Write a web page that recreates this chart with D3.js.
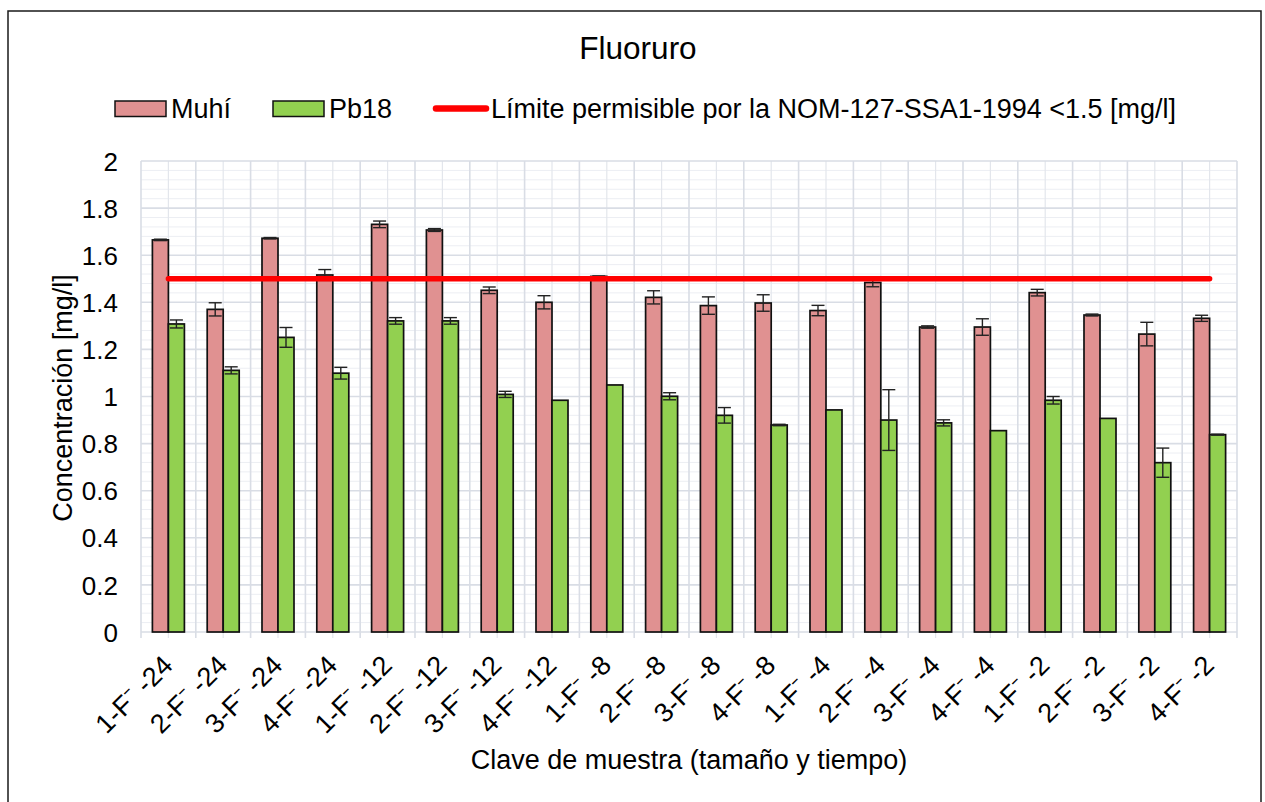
<!DOCTYPE html>
<html>
<head>
<meta charset="utf-8">
<script src="https://cdn.jsdelivr.net/npm/d3@7"></script>
<style>
  html, body { margin: 0; padding: 0; background: #fff; }
  svg { display: block; font-family: Arial, "Liberation Sans", sans-serif; }
</style>
</head>
<body>
<svg id="chart" width="1265" height="802"></svg>
<script>
const categories = ["1-F⁻ -24","2-F⁻ -24","3-F⁻ -24","4-F⁻ -24","1-F⁻ -12","2-F⁻ -12","3-F⁻ -12","4-F⁻ -12",
  "1-F⁻ -8","2-F⁻ -8","3-F⁻ -8","4-F⁻ -8","1-F⁻ -4","2-F⁻ -4","3-F⁻ -4","4-F⁻ -4",
  "1-F⁻ -2","2-F⁻ -2","3-F⁻ -2","4-F⁻ -2"];
const seriesNames = ["Muhí", "Pb18"];
const muhi    = [1.665, 1.370, 1.672, 1.516, 1.731, 1.707, 1.451, 1.400, 1.510, 1.421, 1.386, 1.397, 1.365, 1.484, 1.295, 1.295, 1.441, 1.346, 1.265, 1.332];
const muhiErr = [0.003, 0.028, 0.003, 0.023, 0.014, 0.006, 0.014, 0.028, 0.002, 0.028, 0.037, 0.035, 0.022, 0.018, 0.005, 0.035, 0.014, 0.004, 0.050, 0.013];
const pb18    = [1.308, 1.111, 1.251, 1.099, 1.321, 1.321, 1.009, 0.984, 1.049, 1.001, 0.920, 0.879, 0.943, 0.900, 0.888, 0.855, 0.984, 0.907, 0.719, 0.838];
const pb18Err = [0.017, 0.015, 0.042, 0.025, 0.014, 0.014, 0.013, 0.000, 0.000, 0.015, 0.033, 0.003, 0.000, 0.129, 0.013, 0.000, 0.016, 0.000, 0.062, 0.002];
const limitValue = 1.5;
const limitLabel = "Límite permisible por la NOM-127-SSA1-1994 <1.5 [mg/l]";
const yTicks = [0, 0.2, 0.4, 0.6, 0.8, 1, 1.2, 1.4, 1.6, 1.8, 2];
const titleText = "Fluoruro";
const yTitle = "Concentración [mg/l]";
const xTitle = "Clave de muestra (tamaño y tiempo)";

const colors = {"Muhí": "#e09191", "Pb18": "#92d050"};

const svg = d3.select("#chart");
const plot = {left: 141, right: 1237, top: 161, bottom: 632};

// frame
svg.append("rect").attr("x", 8).attr("y", 11).attr("width", 1253).attr("height", 820)
  .attr("fill", "#fff").attr("stroke", "#1a1a1a").attr("stroke-width", 1.5);

const x0 = d3.scaleBand().domain(categories).range([plot.left, plot.right])
  .paddingInner(0.416).paddingOuter(0.208);
const x1 = d3.scaleBand().domain(seriesNames).range([0, x0.bandwidth()]);
const y = d3.scaleLinear().domain([0, 2]).range([plot.bottom, plot.top]);
const step = x0.step();
const bandStart = c => x0(c) - x0.paddingInner() * step / 2;

// minor horizontal gridlines
const minorY = d3.range(0, 2.0001, 0.04).filter(v => Math.abs(v / 0.2 - Math.round(v / 0.2)) > 1e-6);
svg.append("g").selectAll("line").data(minorY).join("line")
  .attr("x1", plot.left).attr("x2", plot.right)
  .attr("y1", d => y(d)).attr("y2", d => y(d))
  .attr("stroke", "#eceef3").attr("stroke-width", 1);

// minor vertical gridlines (mid of categories)
svg.append("g").selectAll("line").data(categories).join("line")
  .attr("x1", d => x0(d) + x0.bandwidth() / 2).attr("x2", d => x0(d) + x0.bandwidth() / 2)
  .attr("y1", plot.top).attr("y2", plot.bottom + 6)
  .attr("stroke", "#e3e6ec").attr("stroke-width", 1.2);

// major horizontal gridlines
svg.append("g").selectAll("line").data(yTicks).join("line")
  .attr("x1", plot.left).attr("x2", plot.right)
  .attr("y1", d => y(d)).attr("y2", d => y(d))
  .attr("stroke", "#d9dde5").attr("stroke-width", 1.6);

// major vertical gridlines (category boundaries)
const bounds = categories.map(c => bandStart(c)).concat([plot.right]);
svg.append("g").selectAll("line").data(bounds).join("line")
  .attr("x1", d => d).attr("x2", d => d)
  .attr("y1", plot.top).attr("y2", plot.bottom + 6)
  .attr("stroke", "#d9dde5").attr("stroke-width", 1.6);

// y tick labels
const yAxis = d3.axisLeft(y).tickValues(yTicks).tickSize(0).tickPadding(0)
  .tickFormat(d => d3.format("")(Math.round(d * 10) / 10));
const ya = svg.append("g").attr("transform", `translate(${118},0)`).call(yAxis);
ya.select(".domain").remove();
ya.selectAll("text").attr("font-size", 26).attr("fill", "#000")
  .attr("font-family", "Arial, 'Liberation Sans', sans-serif").attr("dy", "0.35em").attr("x", 0);

// bars
const rows = categories.map((c, i) => ({c, vals: [
  {s: "Muhí", v: muhi[i], e: muhiErr[i]},
  {s: "Pb18", v: pb18[i], e: pb18Err[i]}]}));
const groups = svg.append("g").selectAll("g").data(rows).join("g")
  .attr("transform", d => `translate(${x0(d.c)},0)`);
groups.selectAll("rect").data(d => d.vals).join("rect")
  .attr("x", d => x1(d.s)).attr("width", x1.bandwidth())
  .attr("y", d => y(d.v)).attr("height", d => y(0) - y(d.v))
  .attr("fill", d => colors[d.s]).attr("stroke", "#111").attr("stroke-width", 1.7);

// limit line
svg.append("line")
  .attr("x1", x0(categories[0]) + x0.bandwidth() / 2)
  .attr("x2", x0(categories[categories.length - 1]) + x0.bandwidth() / 2)
  .attr("y1", y(limitValue)).attr("y2", y(limitValue))
  .attr("stroke", "#ff0000").attr("stroke-width", 5.5).attr("stroke-linecap", "round");

// error bars
const capW = 6.5;
const eg = groups.selectAll("g.err").data(d => d.vals.filter(v => v.e > 0)).join("g").attr("class", "err")
  .attr("stroke", "#222").attr("stroke-width", 1.4);
eg.append("line")
  .attr("x1", d => x1(d.s) + x1.bandwidth() / 2).attr("x2", d => x1(d.s) + x1.bandwidth() / 2)
  .attr("y1", d => y(d.v - d.e)).attr("y2", d => y(d.v + d.e));
eg.append("line")
  .attr("x1", d => x1(d.s) + x1.bandwidth() / 2 - capW).attr("x2", d => x1(d.s) + x1.bandwidth() / 2 + capW)
  .attr("y1", d => y(d.v + d.e)).attr("y2", d => y(d.v + d.e));
eg.append("line")
  .attr("x1", d => x1(d.s) + x1.bandwidth() / 2 - capW).attr("x2", d => x1(d.s) + x1.bandwidth() / 2 + capW)
  .attr("y1", d => y(d.v - d.e)).attr("y2", d => y(d.v - d.e));

// x tick labels
svg.append("g").selectAll("text").data(categories).join("text")
  .attr("transform", d => `translate(${x0(d) + x0.bandwidth() / 2 + 6},${667}) rotate(-45)`)
  .attr("text-anchor", "end").attr("font-size", 27).attr("fill", "#000")
  .text(d => d);

// title
svg.append("text").attr("x", 638).attr("y", 59).attr("text-anchor", "middle")
  .attr("font-size", 31.5).attr("fill", "#000").text(titleText);

// axis titles
svg.append("text").attr("transform", `translate(72,398) rotate(-90)`).attr("text-anchor", "middle")
  .attr("font-size", 27).attr("fill", "#000").text(yTitle);
svg.append("text").attr("x", 689).attr("y", 769).attr("text-anchor", "middle")
  .attr("font-size", 27).attr("fill", "#000").text(xTitle);

// legend
const lg = svg.append("g");
const legendItems = [
  {type: "rect", name: "Muhí", x: 115, tx: 171},
  {type: "rect", name: "Pb18", x: 273, tx: 329},
  {type: "line", name: limitLabel, x: 433, tx: 491}
];
legendItems.forEach(it => {
  if (it.type === "rect") {
    lg.append("rect").attr("x", it.x).attr("y", 101).attr("width", 51).attr("height", 15.5)
      .attr("fill", colors[it.name]).attr("stroke", "#111").attr("stroke-width", 1.5);
  } else {
    lg.append("line").attr("x1", it.x + 3).attr("x2", it.x + 53).attr("y1", 108.5).attr("y2", 108.5)
      .attr("stroke", "#ff0000").attr("stroke-width", 6.5).attr("stroke-linecap", "round");
  }
  lg.append("text").attr("x", it.tx).attr("y", 117.5).attr("font-size", 27).attr("fill", "#000").text(it.name);
});
</script>
</body>
</html>
